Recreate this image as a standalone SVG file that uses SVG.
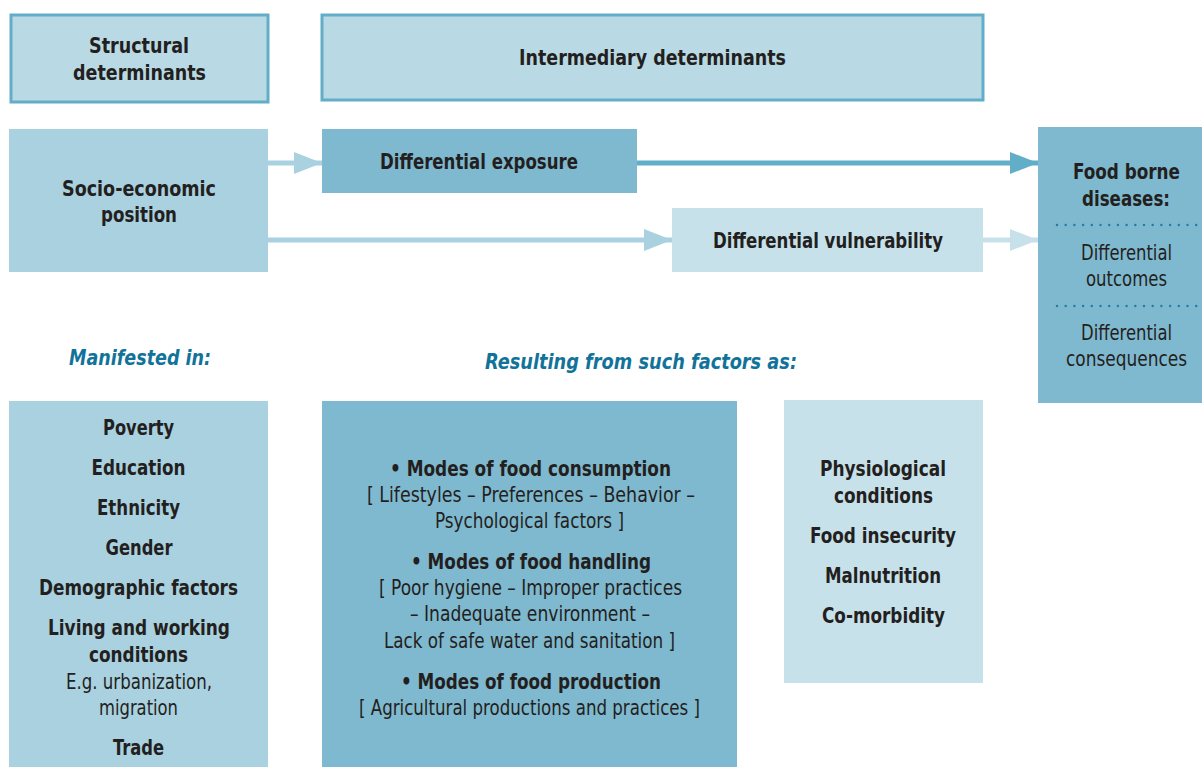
<svg xmlns="http://www.w3.org/2000/svg" width="1202" height="767" viewBox="0 0 1202 767">
<style>
text{font-family:"Liberation Sans Narrow","DejaVu Sans Condensed","Liberation Sans",sans-serif;fill:#231f20;text-anchor:middle;font-size:21.5px}
.b{font-weight:bold;font-size:22px}
.r{font-weight:normal}
.h{font-weight:bold;font-style:italic;fill:#12739a;font-size:22px}
.hdr{fill:#b9dae4;stroke:#62aec8;stroke-width:3}
.c1{fill:#a9d1df}
.c2{fill:#7fb9cf}
.c3{fill:#c7e1ea}
.dot{stroke:#1f7fa6;stroke-width:2.5;stroke-dasharray:0 8.7;stroke-linecap:round}
</style>
<defs>
<marker id="aL" markerWidth="28" markerHeight="22" refX="28" refY="11" orient="auto" markerUnits="userSpaceOnUse"><path d="M0,0 L28,11 L0,22 Z" fill="#a9d1df"/></marker>
<marker id="aD" markerWidth="28" markerHeight="22" refX="28" refY="11" orient="auto" markerUnits="userSpaceOnUse"><path d="M0,0 L28,11 L0,22 Z" fill="#62aec8"/></marker>
<marker id="aP" markerWidth="28" markerHeight="22" refX="28" refY="11" orient="auto" markerUnits="userSpaceOnUse"><path d="M0,0 L28,11 L0,22 Z" fill="#c7e1ea"/></marker>
</defs>
<g id="structural"><rect class="hdr" x="11" y="15" width="257" height="87"/><text class="b" x="139" y="53" textLength="100" lengthAdjust="spacingAndGlyphs">Structural</text><text class="b" x="139.5" y="80" textLength="133" lengthAdjust="spacingAndGlyphs">determinants</text></g>
<g id="intermediary"><rect class="hdr" x="322" y="15" width="661" height="85"/><text class="b" x="652.5" y="65" textLength="267" lengthAdjust="spacingAndGlyphs">Intermediary determinants</text></g>
<g id="connectors">
<line x1="268" y1="163" x2="322" y2="163" stroke="#a9d1df" stroke-width="5" marker-end="url(#aL)"/>
<line x1="268" y1="240" x2="672" y2="240" stroke="#a9d1df" stroke-width="5" marker-end="url(#aL)"/>
<line x1="637" y1="163" x2="1038" y2="163" stroke="#62aec8" stroke-width="5" marker-end="url(#aD)"/>
<line x1="983" y1="240" x2="1038" y2="240" stroke="#c7e1ea" stroke-width="5" marker-end="url(#aP)"/>
</g>
<g id="socio"><rect class="c1" x="9" y="129" width="259" height="143"/><text class="b" x="139" y="196" textLength="154" lengthAdjust="spacingAndGlyphs">Socio-economic</text><text class="b" x="139" y="222" textLength="76" lengthAdjust="spacingAndGlyphs">position</text></g>
<g id="exposure"><rect class="c2" x="322" y="129" width="315" height="64"/><text class="b" x="479" y="169" textLength="198" lengthAdjust="spacingAndGlyphs">Differential exposure</text></g>
<g id="vulnerability"><rect class="c3" x="672" y="208" width="311" height="64"/><text class="b" x="828" y="248" textLength="230" lengthAdjust="spacingAndGlyphs">Differential vulnerability</text></g>
<g id="foodborne"><rect class="c2" x="1038" y="127" width="164" height="276"/>
<text class="b" x="1126.5" y="179" textLength="107" lengthAdjust="spacingAndGlyphs">Food borne</text><text class="b" x="1126" y="206" textLength="88" lengthAdjust="spacingAndGlyphs">diseases:</text>
<line class="dot" x1="1057" y1="225" x2="1202" y2="225"/>
<text class="r" x="1126.5" y="260" textLength="91" lengthAdjust="spacingAndGlyphs">Differential</text><text class="r" x="1126.5" y="286" textLength="81" lengthAdjust="spacingAndGlyphs">outcomes</text>
<line class="dot" x1="1057" y1="306" x2="1202" y2="306"/>
<text class="r" x="1126.5" y="340" textLength="91" lengthAdjust="spacingAndGlyphs">Differential</text><text class="r" x="1126.5" y="366" textLength="121" lengthAdjust="spacingAndGlyphs">consequences</text></g>
<g id="manifested-label"><text class="h" x="140" y="365" textLength="142" lengthAdjust="spacingAndGlyphs">Manifested in:</text></g>
<g id="resulting-label"><text class="h" x="641" y="369" textLength="312" lengthAdjust="spacingAndGlyphs">Resulting from such factors as:</text></g>
<g id="manifest-list"><rect class="c1" x="9" y="401" width="259" height="366"/>
<text class="b" x="138.5" y="435" textLength="71" lengthAdjust="spacingAndGlyphs">Poverty</text>
<text class="b" x="138.5" y="475" textLength="94" lengthAdjust="spacingAndGlyphs">Education</text>
<text class="b" x="138.5" y="515" textLength="83" lengthAdjust="spacingAndGlyphs">Ethnicity</text>
<text class="b" x="139" y="555" textLength="67" lengthAdjust="spacingAndGlyphs">Gender</text>
<text class="b" x="138.5" y="595" textLength="199" lengthAdjust="spacingAndGlyphs">Demographic factors</text>
<text class="b" x="139" y="635" textLength="182" lengthAdjust="spacingAndGlyphs">Living and working</text>
<text class="b" x="138.5" y="662" textLength="99" lengthAdjust="spacingAndGlyphs">conditions</text>
<text class="r" x="139" y="689" textLength="146" lengthAdjust="spacingAndGlyphs">E.g. urbanization,</text>
<text class="r" x="138.5" y="715" textLength="79" lengthAdjust="spacingAndGlyphs">migration</text>
<text class="b" x="138.5" y="755" textLength="51" lengthAdjust="spacingAndGlyphs">Trade</text></g>
<g id="modes"><rect class="c2" x="322" y="401" width="415" height="366"/>
<text class="b" x="530.5" y="476" textLength="281" lengthAdjust="spacingAndGlyphs">• Modes of food consumption</text>
<text class="r" x="531" y="502" textLength="328" lengthAdjust="spacingAndGlyphs">[ Lifestyles – Preferences – Behavior –</text>
<text class="r" x="529.5" y="528" textLength="189" lengthAdjust="spacingAndGlyphs">Psychological factors ]</text>
<text class="b" x="531" y="569" textLength="240" lengthAdjust="spacingAndGlyphs">• Modes of food handling</text>
<text class="r" x="530.5" y="595" textLength="303" lengthAdjust="spacingAndGlyphs">[ Poor hygiene – Improper practices</text>
<text class="r" x="530" y="621" textLength="240" lengthAdjust="spacingAndGlyphs">– Inadequate environment –</text>
<text class="r" x="529.5" y="648" textLength="291" lengthAdjust="spacingAndGlyphs">Lack of safe water and sanitation ]</text>
<text class="b" x="531" y="689" textLength="260" lengthAdjust="spacingAndGlyphs">• Modes of food production</text>
<text class="r" x="529.5" y="715" textLength="341" lengthAdjust="spacingAndGlyphs">[ Agricultural productions and practices ]</text></g>
<g id="physio"><rect class="c3" x="784" y="400" width="199" height="283"/>
<text class="b" x="883" y="476" textLength="126" lengthAdjust="spacingAndGlyphs">Physiological</text>
<text class="b" x="883.5" y="503" textLength="99" lengthAdjust="spacingAndGlyphs">conditions</text>
<text class="b" x="883" y="543" textLength="146" lengthAdjust="spacingAndGlyphs">Food insecurity</text>
<text class="b" x="883" y="583" textLength="116" lengthAdjust="spacingAndGlyphs">Malnutrition</text>
<text class="b" x="883.5" y="623" textLength="123" lengthAdjust="spacingAndGlyphs">Co-morbidity</text></g>
</svg>
